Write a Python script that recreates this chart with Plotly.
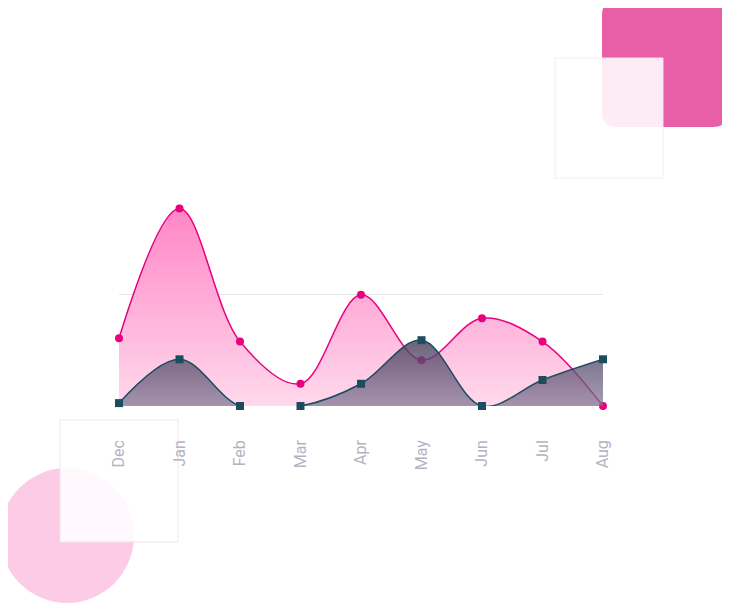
import plotly.graph_objects as go

months = ["Dec","Jan","Feb","Mar","Apr","May","Jun","Jul","Aug"]
pink_vals = [30.5, 88.8, 29, 10, 50, 20.6, 39.5, 29, 0]
dark_vals = [1.3, 21, 0, 0, 10, 29.6, 0, 11.7, 21]

fig = go.Figure()
fig.add_trace(go.Scatter(x=months, y=pink_vals, mode="lines+markers", cliponaxis=False,
    line=dict(shape="spline", smoothing=1.0, color="#e8007f", width=1.5),
    marker=dict(symbol="circle", size=8, color="#e8007f"),
    fill="tozeroy",
    fillgradient=dict(type="vertical", colorscale=[[0, "#ffd9ec"], [1, "#ff86c6"]])))
fig.add_trace(go.Scatter(x=months, y=dark_vals, mode="lines+markers", cliponaxis=False,
    line=dict(shape="spline", smoothing=1.0, color="#1c4d5e", width=1.5),
    marker=dict(symbol="square", size=8, color="#1c4d5e"),
    fill="tozeroy",
    fillgradient=dict(type="vertical", colorscale=[[0, "rgba(130,120,150,0.7)"], [1, "rgba(70,60,90,0.8)"]])))

OFF = 8
FW, FH = 722, 595
L, T = 119 - OFF, 183 - OFF
W, H = 484, 223
R = FW - L - W
B = FH - T - H
def px(x): return (x - 119) / W
def py(y): return (406 - y) / H

shapes = [
    dict(type="path", xref="paper", yref="paper", layer="below",
         path=f"M {px(617)},{py(0)} L {px(713)},{py(0)} Q {px(728)},{py(0)} {px(728)},{py(15)} L {px(728)},{py(112)} Q {px(728)},{py(127)} {px(713)},{py(127)} L {px(617)},{py(127)} Q {px(602)},{py(127)} {px(602)},{py(112)} L {px(602)},{py(15)} Q {px(602)},{py(0)} {px(617)},{py(0)} Z",
         fillcolor="#e85fa8", line=dict(width=0)),
    dict(type="rect", xref="paper", yref="paper", layer="below",
         x0=px(555), x1=px(663), y0=py(58), y1=py(178),
         fillcolor="rgba(255,255,255,0.88)", line=dict(color="rgba(255,230,240,0.9)", width=1)),
    dict(type="circle", xref="paper", yref="paper", layer="below",
         x0=px(0), x1=px(134), y0=py(468), y1=py(603),
         fillcolor="#fccce6", line=dict(width=0)),
    dict(type="rect", xref="paper", yref="paper", layer="below",
         x0=px(60), x1=px(178), y0=py(420), y1=py(542),
         fillcolor="rgba(255,255,255,0.85)", line=dict(color="rgba(245,225,235,0.9)", width=1)),
]

fig.update_layout(
    width=FW, height=FH, margin=dict(l=L, r=R, t=T, b=B),
    paper_bgcolor="white", plot_bgcolor="rgba(0,0,0,0)",
    showlegend=False, shapes=shapes,
    xaxis=dict(showgrid=False, zeroline=False, showline=False, tickangle=-90,
               tickfont=dict(family="Roboto", size=16, color="#b3b3c3"),
               range=[0, 8], ticks="", ticklabelstandoff=30),
    yaxis=dict(range=[0, 100.3], tickvals=[50, 100], showticklabels=False,
               gridcolor="#e6e6e6", zeroline=False, showline=False),
)
fig.write_html("out.html")
